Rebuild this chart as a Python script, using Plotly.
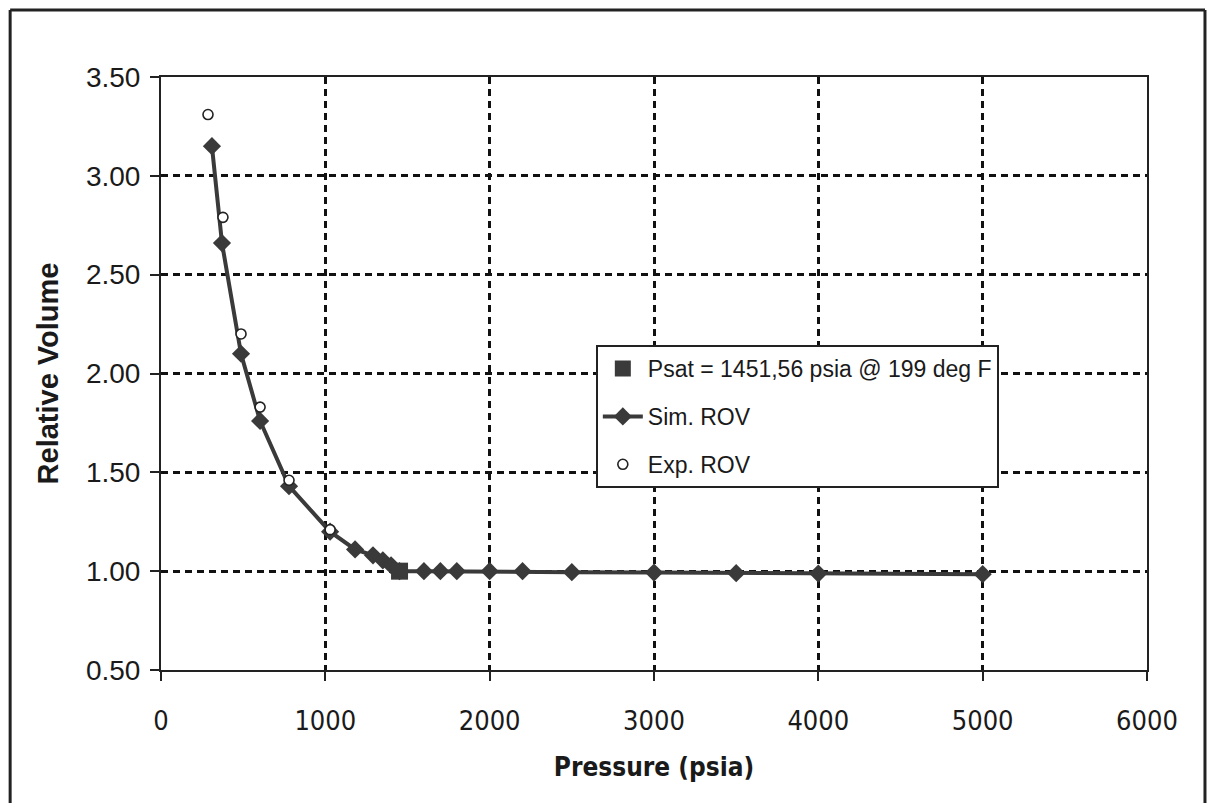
import plotly.graph_objects as go

# Simulated relative oil volume (ROV)
sim_p = [310, 371, 487, 603, 779, 1029, 1181, 1290, 1350, 1400, 1451.56,
         1600, 1700, 1800, 2000, 2200, 2500, 3000, 3500, 4000, 5000]
sim_v = [3.15, 2.66, 2.10, 1.76, 1.43, 1.20, 1.11, 1.08, 1.055, 1.03, 1.00,
         1.00, 1.00, 1.00, 1.00, 1.00, 0.995, 0.993, 0.99, 0.988, 0.985]

# Experimental ROV
exp_p = [286, 377, 487, 603, 779, 1029]
exp_v = [3.31, 2.79, 2.20, 1.83, 1.46, 1.21]

# Saturation pressure point
psat_p = [1451.56]
psat_v = [1.00]

x_ticks = [0, 1000, 2000, 3000, 4000, 5000, 6000]
y_ticks = [0.5, 1.0, 1.5, 2.0, 2.5, 3.0, 3.5]

LINE = "#3a3a3a"
NARROW = "Liberation Sans Narrow, DejaVu Sans Condensed, Liberation Sans, Arial"

fig = go.Figure()
fig.add_trace(go.Scatter(
    x=sim_p, y=sim_v, mode="lines+markers", name="Sim. ROV", legendrank=2,
    legendgroup="b",
    line=dict(color=LINE, width=4),
    marker=dict(symbol="diamond", size=14, color=LINE),
))
fig.add_trace(go.Scatter(
    x=exp_p, y=exp_v, mode="markers", name="Exp. ROV", legendrank=3,
    legendgroup="c",
    marker=dict(symbol="circle", size=10, color="white",
                line=dict(color="#222", width=1.6)),
))
fig.add_trace(go.Scatter(
    x=psat_p, y=psat_v, mode="markers",
    name="Psat = 1451,56 psia @ 199 deg F", legendrank=1, legendgroup="a",
    marker=dict(symbol="square", size=17, color=LINE),
))

axis_common = dict(
    showline=True, linecolor="#222", linewidth=2, mirror=True,
    showgrid=True, gridcolor="#111", gridwidth=2.5, griddash="7px,5px",
    ticks="outside", ticklen=9, tickwidth=2, tickcolor="#222",
    zeroline=False,
)

fig.update_layout(
    width=1216, height=803,
    margin=dict(l=161, r=69, t=77, b=133),
    paper_bgcolor="white", plot_bgcolor="white",
    font=dict(family="Liberation Sans, Arial", color="#1a1a1a", size=20),
    showlegend=True,
    legend=dict(
        x=0.441, y=0.548, xanchor="left", yanchor="top",
        bgcolor="white", bordercolor="#222", borderwidth=2,
        font=dict(size=23), itemwidth=40, tracegroupgap=15,
    ),
    xaxis=dict(
        range=[0, 6000], tickvals=x_ticks,
        ticktext=[str(v) for v in x_ticks],
        tickfont=dict(family=NARROW, size=27),
        ticklabelstandoff=17,
        title=dict(text="<b>Pressure (psia)</b>", standoff=22,
                   font=dict(family=NARROW, size=26)),
        **axis_common,
    ),
    yaxis=dict(
        range=[0.5, 3.5], tickvals=y_ticks,
        ticktext=[f"{v:.2f}" for v in y_ticks],
        tickfont=dict(size=28),
        ticklabelstandoff=4,
        title=dict(text="<b>Relative Volume</b>", standoff=19,
                   font=dict(size=29)),
        **axis_common,
    ),
    shapes=[
        dict(type="line", xref="paper", yref="paper",
             x0=-0.153, x1=-0.153, y0=-0.23, y1=1.113,
             line=dict(color="#222", width=3)),
        dict(type="line", xref="paper", yref="paper",
             x0=-0.153, x1=1.0588, y0=1.113, y1=1.113,
             line=dict(color="#222", width=3)),
        dict(type="line", xref="paper", yref="paper",
             x0=1.0588, x1=1.0588, y0=-0.23, y1=1.113,
             line=dict(color="#222", width=3)),
    ],
)

fig.write_html("out.html")
